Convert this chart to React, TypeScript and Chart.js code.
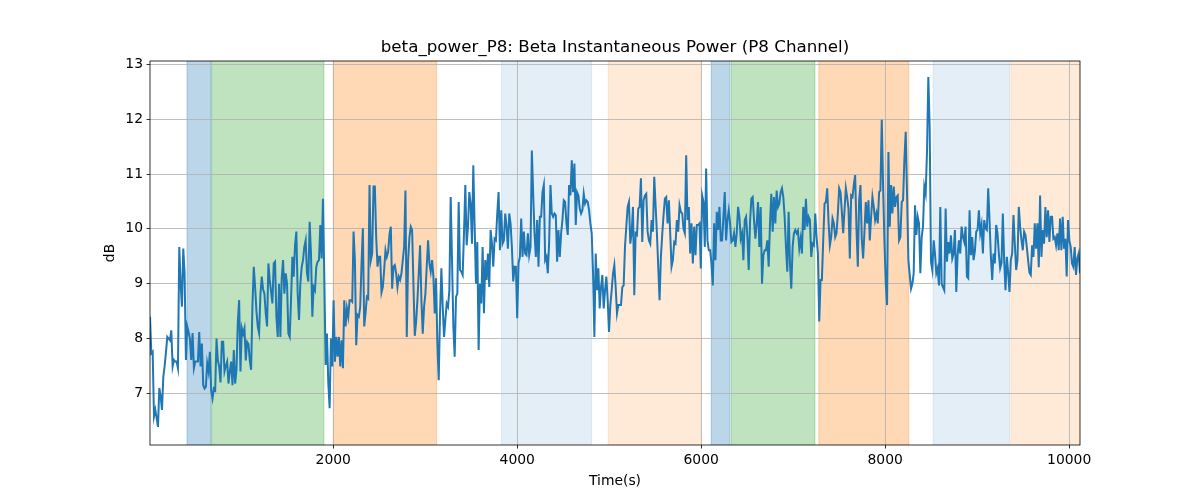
import React, { useEffect, useRef } from "react";
import { Chart, registerables } from "chart.js";

Chart.register(...registerables);

// ---- data (dB), in time order ----
const powerSeg1 = [
  8.40, 7.73, 7.76, 6.58, 6.70, 6.55, 6.39, 7.10, 6.95, 6.70,
  7.30, 7.50, 7.75, 8.03, 8.00, 7.97, 8.15, 7.49, 7.61, 7.58,
  7.58, 7.46, 9.67, 9.00, 8.58, 9.64, 9.19, 7.61, 8.22, 8.12,
  8.00, 7.61, 8.10, 7.46, 7.58, 7.58, 7.58, 8.12, 7.49, 7.91,
  7.15, 7.09, 7.12, 7.55, 7.40, 7.76, 7.05, 6.91, 7.09, 7.06,
  8.00, 7.60, 7.49, 7.20, 7.94, 7.94, 7.40, 7.50, 7.58, 7.18,
  7.40, 7.58, 7.15, 7.79, 7.18, 7.43, 8.30, 8.70, 7.40, 8.19,
  8.09, 8.19, 7.60, 7.94, 7.90, 7.60, 7.43, 8.60, 9.31, 8.94,
  8.50, 8.22, 8.10, 8.80, 9.13, 8.90,
];
const powerSeg2 = [
  8.82, 8.46, 8.22, 9.37, 9.07, 8.85, 8.64, 9.37, 9.40, 8.40,
  8.03, 9.00, 8.03, 9.10, 9.43, 8.82, 9.19, 9.00, 8.09, 8.03,
  8.70, 9.49, 9.13, 9.70, 9.95, 8.82, 8.34, 9.00, 9.30, 9.43,
  9.67, 9.79, 9.19, 9.04, 10.13, 9.55, 8.40, 8.94, 8.88, 9.31,
  9.40, 9.43, 10.07, 9.46, 10.55, 9.13, 7.52, 8.09, 7.20, 6.73,
  8.00, 7.49, 8.70, 7.58, 8.03, 7.67, 8.03, 7.49, 7.97, 7.46,
  8.70, 8.22, 8.55, 8.40, 8.70, 8.70, 8.67, 9.95, 9.43, 7.88,
  8.43, 8.40, 8.58, 9.37, 10.01, 8.22, 8.46, 8.76, 8.73, 10.80,
  9.43, 9.55, 10.77, 10.77, 9.85, 9.31, 9.49, 9.49,
];
const powerSeg3 = [
  8.84, 8.94, 9.25, 9.61, 9.49, 9.58, 9.90, 10.04, 8.91, 9.31,
  9.34, 9.19, 8.94, 9.13, 9.07, 9.19, 9.43, 9.67, 10.70, 8.03,
  9.43, 9.85, 10.04, 9.98, 9.00, 8.05, 8.30, 8.70, 9.19, 9.70,
  8.70, 8.09, 8.58, 8.82, 9.31, 9.79, 9.37, 9.22, 9.43, 9.13,
  8.46, 9.10, 7.91, 7.24, 8.46, 9.28, 8.58, 8.03, 8.34, 8.64,
  8.58, 8.88, 10.58, 9.43, 8.22, 7.67, 8.76, 8.82, 10.49, 9.25,
  9.22, 9.16, 9.92, 10.80, 9.70, 10.04, 10.67, 10.46, 9.73, 11.16,
  10.04, 9.00, 9.76, 7.79, 9.00, 8.64, 9.67, 8.46, 9.43, 9.07,
  9.55, 8.94, 9.98, 9.73, 9.31, 9.82, 9.79, 10.28,
];
const powerSeg4 = [
  10.67, 9.61, 10.34, 9.73, 9.79, 10.28, 10.04, 9.64, 10.28, 10.10,
  9.67, 9.04, 9.31, 9.31, 8.37, 9.37, 9.49, 10.19, 9.49, 9.95,
  9.55, 9.52, 9.92, 9.52, 9.67, 11.43, 10.64, 9.92, 9.49, 10.16,
  9.31, 10.22, 10.22, 10.67, 10.80, 9.43, 9.49, 9.19, 9.76, 10.80,
  10.28, 10.22, 10.28, 10.25, 9.40, 9.98, 9.49, 9.92, 10.16, 10.52,
  10.49, 10.10, 9.89, 10.80, 10.61, 11.25, 10.67, 11.19, 10.07, 10.67,
  10.61, 10.37, 10.28, 10.34, 10.64, 10.46, 10.52, 10.49, 10.34, 10.10,
  9.92, 9.19, 8.03, 9.55, 8.88, 9.28, 8.55, 8.94, 9.16, 8.55,
  8.88, 9.13, 8.70, 8.12, 8.61, 8.88, 9.19, 9.34,
];
const powerSeg5 = [
  8.94, 8.46, 8.61, 8.61, 8.61, 8.94, 8.97, 9.67, 10.04, 10.40,
  10.49, 9.73, 9.92, 10.40, 8.79, 9.92, 9.89, 10.37, 10.40, 10.92,
  9.76, 10.52, 10.61, 10.64, 9.95, 9.79, 9.73, 10.16, 9.95, 10.95,
  10.43, 9.92, 9.31, 8.70, 9.49, 9.90, 10.25, 10.55, 10.58, 10.10,
  10.52, 9.92, 9.31, 9.43, 9.76, 9.73, 10.16, 9.95, 10.43, 10.31,
  10.28, 10.00, 9.92, 11.34, 10.16, 10.40, 9.55, 10.10, 9.37, 10.04,
  9.52, 10.07, 10.07, 10.10, 9.28, 10.61, 10.49, 9.67, 11.10, 9.79,
  9.61, 9.61, 9.37, 8.97, 10.10, 9.43, 10.31, 9.98, 10.40, 9.79,
  9.79, 10.22, 10.67, 9.79, 10.16, 10.34, 10.10, 9.76,
];
const powerSeg6 = [
  9.79, 9.92, 9.67, 9.92, 10.40, 10.22, 9.82, 9.92, 9.43, 10.16,
  10.22, 9.85, 9.25, 10.13, 10.55, 10.58, 10.16, 9.82, 10.10, 10.49,
  9.67, 10.40, 9.00, 9.52, 9.61, 9.61, 9.79, 9.31, 10.10, 10.64,
  9.95, 10.58, 10.10, 10.70, 10.40, 10.46, 10.67, 10.74, 10.58, 10.22,
  9.67, 9.22, 10.31, 9.37, 8.91, 9.67, 9.92, 9.98, 9.92, 9.97,
  9.64, 9.82, 9.55, 10.40, 9.98, 10.55, 10.04, 10.22, 10.16, 9.49,
  9.73, 9.70, 10.28, 9.85, 9.55, 8.31, 9.07, 9.07, 9.79, 10.46,
  10.49, 10.74, 10.13, 9.70, 9.85, 10.19, 10.10, 9.85, 9.92, 10.28,
  10.74, 10.67, 10.31, 9.92, 10.34, 10.74, 10.58, 10.37,
];
const powerSeg7 = [
  9.46, 10.61, 10.58, 10.80, 10.98, 10.00, 9.31, 10.52, 10.80, 9.80,
  9.46, 9.95, 10.49, 10.10, 10.52, 9.79, 10.22, 10.58, 10.40, 10.16,
  10.28, 10.10, 10.67, 10.70, 11.99, 10.77, 9.79, 9.00, 8.61, 11.40,
  10.04, 10.80, 10.28, 10.77, 10.40, 10.58, 10.61, 9.79, 9.85, 10.49,
  10.52, 11.25, 11.77, 10.64, 9.43, 9.16, 8.91, 9.00, 9.19, 10.43,
  9.89, 10.22, 10.10, 9.19, 9.85, 10.04, 10.77, 10.64, 11.40, 12.77,
  11.86, 9.40, 9.25, 9.79, 9.55, 9.19, 9.28, 8.97, 10.40, 9.00,
  8.94, 8.88, 10.37, 9.40, 9.76, 9.55, 9.88, 9.46, 9.55, 9.98,
  8.85, 9.52, 9.79, 9.55, 10.04, 9.85, 9.76, 10.04,
];
const powerSeg8 = [
  9.13, 9.10, 10.34, 9.52, 9.85, 9.43, 9.60, 9.95, 9.98, 10.34,
  9.92, 10.07, 9.55, 10.16, 10.01, 9.98, 10.74, 10.16, 9.50, 9.07,
  9.55, 9.37, 10.07, 9.92, 9.55, 9.28, 9.37, 10.28, 9.43, 8.88,
  9.49, 9.20, 8.85, 9.43, 9.55, 10.25, 9.73, 9.25, 9.43, 10.40,
  10.04, 9.80, 9.61, 9.95, 9.89, 9.67, 9.43, 9.20, 9.16, 9.70,
  9.49, 10.10, 9.64, 10.10, 9.30, 10.61, 9.49, 9.98, 9.73, 10.40,
  9.85, 10.34, 9.76, 10.22, 10.22, 9.82, 9.85, 9.70, 9.92, 9.61,
  10.19, 9.61, 10.22, 9.64, 9.82, 9.13, 10.16, 9.79, 9.67, 9.37,
  9.31, 9.67, 9.16, 9.46, 9.55, 9.19,
];

const TIME_FIRST = 8;      // s, first sample
const TIME_LAST = 10118;   // s, last sample

// shaded condition spans (s)
const SPAN_START = [410, 678, 2000, 3830, 4989, 6109, 6326, 7279, 8522, 9366];
const SPAN_END = [671, 1899, 3124, 4809, 6000, 6312, 7236, 8257, 9352, 10118];
const SPAN_KIND = ["C0", "C2", "C1", "C0light", "C1light", "C0", "C2", "C1", "C0light", "C1light"];

const X_TICKS = [2000, 4000, 6000, 8000, 10000];
const Y_TICKS = [7, 8, 9, 10, 11, 12, 13];

const TITLE = "beta_power_P8: Beta Instantaneous Power (P8 Channel)";
const X_LABEL = "Time(s)";
const Y_LABEL = "dB";

// ---- styles ----
const SPAN_STYLE: Record<string, string> = {
  C0: "rgba(31,119,180,0.3)",
  C2: "rgba(44,160,44,0.3)",
  C1: "rgba(255,127,14,0.3)",
  C0light: "rgba(31,119,180,0.12)",
  C1light: "rgba(255,127,14,0.16)",
};
const FONT = '"DejaVu Sans", "Liberation Sans", sans-serif';

const decorPlugin = {
  id: "decor",
  beforeDraw(chart: any) {
    const { ctx, chartArea, scales } = chart;
    const xs = scales.x;
    ctx.save();
    ctx.beginPath();
    ctx.rect(chartArea.left, chartArea.top, chartArea.right - chartArea.left, chartArea.bottom - chartArea.top);
    ctx.clip();
    SPAN_START.forEach((s, i) => {
      const x0 = xs.getPixelForValue(s);
      const x1 = xs.getPixelForValue(SPAN_END[i]);
      const c = SPAN_STYLE[SPAN_KIND[i]];
      ctx.fillStyle = c;
      ctx.fillRect(x0, chartArea.top, x1 - x0, chartArea.bottom - chartArea.top);
      ctx.strokeStyle = c;
      ctx.lineWidth = 1;
      ctx.beginPath();
      ctx.moveTo(x0, chartArea.top);
      ctx.lineTo(x0, chartArea.bottom);
      ctx.moveTo(x1, chartArea.top);
      ctx.lineTo(x1, chartArea.bottom);
      ctx.stroke();
    });
    ctx.restore();
  },
  afterDraw(chart: any) {
    const { ctx, chartArea } = chart;
    ctx.save();
    ctx.strokeStyle = "#000";
    ctx.lineWidth = 0.8;
    ctx.strokeRect(chartArea.left, chartArea.top, chartArea.right - chartArea.left, chartArea.bottom - chartArea.top);
    const cx = (chartArea.left + chartArea.right) / 2;
    ctx.fillStyle = "#000";
    ctx.textAlign = "center";
    ctx.textBaseline = "alphabetic";
    ctx.font = `16.7px ${FONT}`;
    ctx.fillText(TITLE, cx, 52);
    ctx.font = `13.9px ${FONT}`;
    ctx.textBaseline = "middle";
    ctx.fillText(X_LABEL, cx, 481);
    ctx.translate(110, (chartArea.top + chartArea.bottom) / 2);
    ctx.rotate(-Math.PI / 2);
    ctx.fillText(Y_LABEL, 0, 0);
    ctx.restore();
  },
};

export default function App() {
  const canvasRef = useRef<HTMLCanvasElement | null>(null);

  useEffect(() => {
    const values = [
      ...powerSeg1, ...powerSeg2, ...powerSeg3, ...powerSeg4,
      ...powerSeg5, ...powerSeg6, ...powerSeg7, ...powerSeg8,
    ];
    const step = (TIME_LAST - TIME_FIRST) / (values.length - 1);
    const points = values.map((v, i) => ({ x: TIME_FIRST + i * step, y: v }));

    const tickFont = { family: FONT, size: 13.9 };
    const chart = new Chart(canvasRef.current as HTMLCanvasElement, {
      type: "line",
      data: {
        datasets: [
          {
            data: points,
            borderColor: "#1f77b4",
            borderWidth: 2,
            pointRadius: 0,
            tension: 0,
            fill: false,
          },
        ],
      },
      options: {
        animation: false,
        responsive: false,
        devicePixelRatio: 1,
        layout: { padding: { top: 61, right: 120, bottom: 0, left: 0 } },
        plugins: {
          legend: { display: false },
          title: { display: false },
          tooltip: { enabled: false },
        },
        scales: {
          x: {
            type: "linear",
            min: TIME_FIRST,
            max: TIME_LAST,
            afterBuildTicks: (s: any) => {
              s.ticks = X_TICKS.map((v) => ({ value: v }));
            },
            afterFit: (s: any) => {
              s.height = 55;
            },
            ticks: {
              color: "#000",
              font: tickFont,
              padding: 3.5,
              maxRotation: 0,
              autoSkip: false,
              callback: (v: any) => String(v),
            },
            grid: {
              color: "#b0b0b0",
              lineWidth: 0.8,
              tickColor: "#000",
              tickLength: 3.5,
              tickWidth: 0.8,
            },
            border: { display: false },
          },
          y: {
            type: "linear",
            min: 6.06,
            max: 13.06,
            afterBuildTicks: (s: any) => {
              s.ticks = Y_TICKS.map((v) => ({ value: v }));
            },
            afterFit: (s: any) => {
              s.width = 150;
            },
            ticks: {
              color: "#000",
              font: tickFont,
              padding: 3.5,
              autoSkip: false,
              callback: (v: any) => String(v),
            },
            grid: {
              color: "#b0b0b0",
              lineWidth: 0.8,
              tickColor: "#000",
              tickLength: 3.5,
              tickWidth: 0.8,
            },
            border: { display: false },
          },
        },
      },
      plugins: [decorPlugin],
    } as any);
    return () => chart.destroy();
  }, []);

  return (
    <div style={{ position: "fixed", left: 0, top: 0, width: 1200, height: 500, background: "#fff" }}>
      <canvas ref={canvasRef} width={1200} height={500} style={{ display: "block", width: 1200, height: 500 }} />
    </div>
  );
}
